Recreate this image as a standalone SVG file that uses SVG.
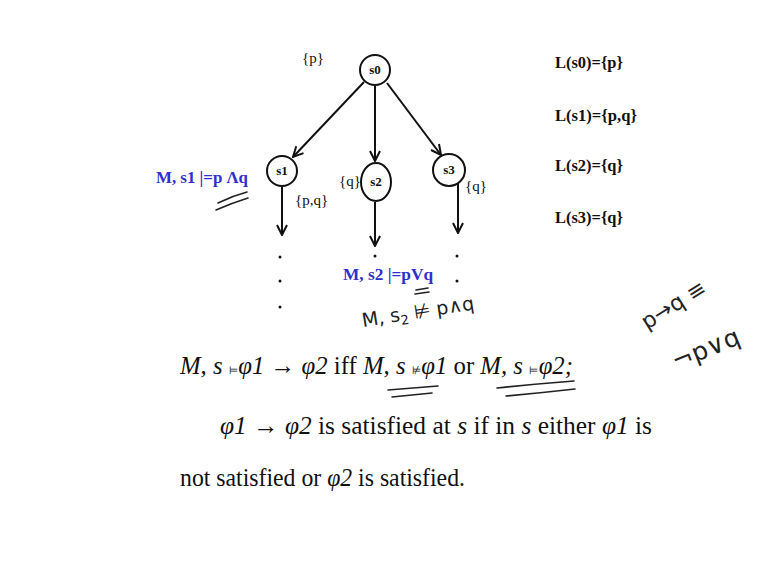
<svg xmlns="http://www.w3.org/2000/svg" width="770" height="575" viewBox="0 0 770 575">
<defs>
<style>
.st{fill:#fff;stroke:#111;stroke-width:2}
.lb{font-family:"Liberation Serif",serif;font-size:15px;fill:#111}
.nl{font-family:"Liberation Serif",serif;font-size:13px;font-weight:bold;fill:#111}
.ed{stroke:#111;stroke-width:2;fill:none;marker-end:url(#ah)}
.bl{font-family:"Liberation Serif",serif;font-size:17px;font-weight:bold;fill:#2f2fcc}
.L{font-family:"Liberation Serif",serif;font-size:17px;font-weight:bold;fill:#111}
.mt{font-family:"Liberation Serif",serif;font-size:26px;fill:#111}
.it{font-style:italic}
.hw{font-family:"DejaVu Sans",sans-serif;fill:#222}
.ink{stroke:#222;stroke-width:1.6;fill:none;stroke-linecap:round}
.dot{fill:#111}
</style>
<marker id="ah" viewBox="0 0 12 12" refX="11" refY="6" markerWidth="12" markerHeight="12" markerUnits="userSpaceOnUse" orient="auto">
<path d="M1,1 L11,6 L1,11" fill="none" stroke="#111" stroke-width="2"/>
</marker>
</defs>
<rect width="770" height="575" fill="#fff"/>

<g id="connectors">
<line class="ed" x1="364" y1="82" x2="293" y2="157"/>
<line class="ed" x1="375" y1="86" x2="375" y2="161"/>
<line class="ed" x1="387" y1="83" x2="441" y2="155"/>
<line class="ed" x1="282" y1="187" x2="282" y2="235"/>
<line class="ed" x1="375" y1="202" x2="375" y2="246"/>
<line class="ed" x1="458" y1="183" x2="458" y2="233"/>
</g>

<g id="s0"><circle class="st" cx="375" cy="70" r="15"/><text class="nl" x="375" y="74" text-anchor="middle">s0</text></g>
<g id="s1"><circle class="st" cx="282" cy="171" r="15"/><text class="nl" x="282" y="175" text-anchor="middle">s1</text></g>
<g id="s2"><text class="lb" x="339" y="186">{q}</text><ellipse class="st" cx="376" cy="182" rx="15" ry="19"/><text class="nl" x="376" y="186" text-anchor="middle">s2</text></g>
<g id="s3"><circle class="st" cx="449" cy="170" r="16"/><text class="nl" x="449" y="174" text-anchor="middle">s3</text></g>

<g id="labels">
<text class="lb" x="302" y="63">{p}</text>
<text class="lb" x="295" y="205">{p,q}</text>
<text class="lb" x="465" y="191">{q}</text>
<text class="bl" x="156" y="183" textLength="92" lengthAdjust="spacingAndGlyphs">M, s1 |=p Λq</text>
<text class="bl" x="343" y="280" textLength="90" lengthAdjust="spacingAndGlyphs">M, s2 |=pVq</text>
<circle class="dot" cx="280" cy="257" r="1.5"/><circle class="dot" cx="280" cy="281" r="1.5"/><circle class="dot" cx="280" cy="307" r="1.5"/>
<circle class="dot" cx="375" cy="256" r="1.5"/>
<circle class="dot" cx="457" cy="256" r="1.5"/><circle class="dot" cx="457" cy="281" r="1.5"/>
</g>

<g id="Lmap">
<text class="L" x="555" y="68" textLength="68" lengthAdjust="spacingAndGlyphs">L(s0)={p}</text>
<text class="L" x="555" y="121" textLength="82" lengthAdjust="spacingAndGlyphs">L(s1)={p,q}</text>
<text class="L" x="555" y="171" textLength="68" lengthAdjust="spacingAndGlyphs">L(s2)={q}</text>
<text class="L" x="555" y="223" textLength="68" lengthAdjust="spacingAndGlyphs">L(s3)={q}</text>
</g>

<g id="body">
<text class="mt" x="180" y="374" textLength="393" lengthAdjust="spacingAndGlyphs"><tspan class="it">M, s </tspan><tspan font-size="11">⊨</tspan><tspan class="it">φ1</tspan> → <tspan class="it">φ2</tspan> iff <tspan class="it">M, s </tspan><tspan font-size="11">⊭</tspan><tspan class="it">φ1</tspan> or <tspan class="it">M, s </tspan><tspan font-size="11">⊨</tspan><tspan class="it">φ2;</tspan></text>
<text class="mt" x="220" y="434" textLength="432" lengthAdjust="spacingAndGlyphs"><tspan class="it">φ1</tspan> → <tspan class="it">φ2</tspan> is satisfied at <tspan class="it">s</tspan> if in <tspan class="it">s</tspan>  either <tspan class="it">φ1</tspan> is</text>
<text class="mt" x="180" y="486" textLength="285" lengthAdjust="spacingAndGlyphs">not satisfied or <tspan class="it">φ2</tspan> is satisfied.</text>
</g>

<g id="handwriting">
<path class="ink" d="M218,203 Q232,196 247,192 M216,210 Q232,203 248,198"/>
<path class="ink" d="M388,390 Q412,388 438,386 M392,397 Q412,395 432,393"/>
<path class="ink" d="M497,388 Q535,384 574,381 M506,396 Q540,393 575,389"/>
<path class="ink" d="M416,290 L428,288 M415,294 L429,292"/>
<text class="hw" x="363" y="327" font-size="19" transform="rotate(-9 363 327)">M, s<tspan font-size="13" dy="4">2</tspan><tspan dy="-4"> ⊭ p∧q</tspan></text>
<text class="hw" x="647" y="330" font-size="22" transform="rotate(-32 647 330)">p→q ≡</text>
<text class="hw" x="676" y="370" font-size="25" transform="rotate(-22 676 370)">¬p∨q</text>
</g>
</svg>
